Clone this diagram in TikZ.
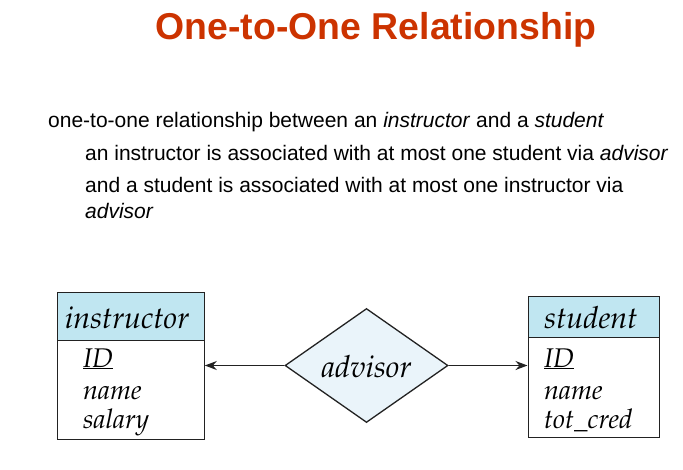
\documentclass[tikz,border=0pt]{standalone}
\usepackage[T1]{fontenc}
\usepackage{fontspec}
\setmainfont{Liberation Sans}
\usetikzlibrary{shapes.geometric,arrows.meta}

% Palatino italic for the E-R diagram labels
\newcommand\erfont{\fontencoding{T1}\fontfamily{ppl}\fontseries{m}\fontshape{it}\selectfont}

\definecolor{titlered}{HTML}{CC3300}
\definecolor{headblue}{HTML}{C0E6F1}
\definecolor{relblue}{HTML}{EAF4FA}
\definecolor{edge}{HTML}{222222}

\tikzset{
  titletext/.style={font=\fontsize{37.4}{42}\selectfont\bfseries, text=titlered, inner sep=0pt},
  bodytext/.style={font=\fontsize{21}{24}\selectfont, inner sep=0pt, anchor=base west},
  erhead/.style={draw=edge, line width=1.3pt, fill=headblue, inner sep=0pt, anchor=north west},
  erbody/.style={draw=edge, line width=1.3pt, fill=white, inner sep=0pt, anchor=north west},
  erlabel/.style={font=\erfont\fontsize{30.5}{34}\selectfont, inner sep=0pt, anchor=base},
  attr/.style={font=\erfont\fontsize{27}{30}\selectfont, inner sep=0pt, anchor=base west},
  rel/.style={diamond, draw=edge, line width=1.3pt, fill=relblue, inner sep=0pt,
    minimum width=163pt, minimum height=114pt, aspect=1.43},
  link/.style={draw=edge, line width=1.3pt, -{Stealth[length=12pt,width=9pt]}}
}

\begin{document}
\begin{tikzpicture}[x=1pt, y=-1pt]
  \useasboundingbox (0,0) rectangle (683,469);

  % heading
  \node[titletext, anchor=base] (title) at (376,39) {One-to-One Relationship};

  % explanatory text
  \node[bodytext] (l1) at (48,127) {one-to-one relationship between an \textit{instructor} and a \textit{student}};
  \node[bodytext] (l2) at (85,160) {an instructor is associated with at most one student via \textit{advisor}};
  \node[bodytext] (l3) at (85,192) {and a student is associated with at most one instructor via};
  \node[bodytext] (l4) at (85,218) {\textit{advisor}};

  % entity: instructor
  \node[erbody, minimum width=147pt, minimum height=99pt] (ibody) at (56.5,340) {};
  \node[erhead, minimum width=147pt, minimum height=48pt] (ihead) at (56.5,292) {};
  \node[erlabel] (iname) at (127,328) {instructor};
  \node[attr] (iid) at (83,367) {\underline{ID}};
  \node[attr] (inm) at (83,399) {name};
  \node[attr] (isal) at (83,428) {salary};

  % entity: student
  \node[erbody, minimum width=131pt, minimum height=100pt] (sbody) at (527.5,337) {};
  \node[erhead, minimum width=131pt, minimum height=41pt] (shead) at (527.5,296) {};
  \node[erlabel] (sname) at (591,328) {student};
  \node[attr] (sid) at (544,367) {\underline{ID}};
  \node[attr] (snm) at (544,399) {name};
  \node[attr] (scr) at (544,428) {tot\_cred};

  % relationship
  \node[rel] (adv) at (366.5,365.5) {};
  \node[erlabel, anchor=center] (advl) at (366.5,367) {advisor};

  % one-to-one connectors
  \draw[link] (adv.west) -- (adv.west -| ibody.east);
  \draw[link] (adv.east) -- (adv.east -| sbody.west);
\end{tikzpicture}
\end{document}
